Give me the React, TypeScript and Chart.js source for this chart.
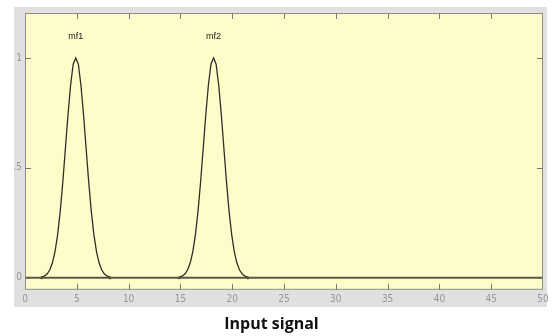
import { useEffect, useRef } from 'react';
import { Chart, registerables } from 'chart.js';

Chart.register(...registerables);

const MF_NAMES = ['mf1', 'mf2'];

const MF1_X = [1.6, 1.65, 1.9, 2.15, 2.4, 2.65, 2.9, 3.15, 3.4, 3.65, 3.9, 4.15, 4.4, 4.65, 4.9, 5.15, 5.4, 5.65, 5.9, 6.15, 6.4, 6.65, 6.9, 7.15, 7.4, 7.65, 7.9, 8.15, 8.2];
const MF1_Y = [0, 0.003, 0.008, 0.018, 0.036, 0.068, 0.119, 0.196, 0.302, 0.436, 0.588, 0.742, 0.876, 0.972, 1.0, 0.972, 0.876, 0.742, 0.588, 0.436, 0.302, 0.196, 0.119, 0.068, 0.036, 0.018, 0.008, 0.003, 0];

const MF2_X = [14.9, 14.95, 15.2, 15.45, 15.7, 15.95, 16.2, 16.45, 16.7, 16.95, 17.2, 17.45, 17.7, 17.95, 18.2, 18.45, 18.7, 18.95, 19.2, 19.45, 19.7, 19.95, 20.2, 20.45, 20.7, 20.95, 21.2, 21.45, 21.5];
const MF2_Y = [0, 0.003, 0.008, 0.018, 0.036, 0.068, 0.119, 0.196, 0.302, 0.436, 0.588, 0.742, 0.876, 0.972, 1.0, 0.972, 0.876, 0.742, 0.588, 0.436, 0.302, 0.196, 0.119, 0.068, 0.036, 0.018, 0.008, 0.003, 0];

const BASE_X = [0, 50];
const BASE_Y = [0, 0];

const X_TICKS = [0, 5, 10, 15, 20, 25, 30, 35, 40, 45, 50];
const Y_TICKS = [0, 0.5, 1];
const LABEL_LEVEL = 1.1;
const TITLE = 'Input signal';

const pts = (xs: number[], ys: number[]) => xs.map((x, i) => ({ x, y: ys[i] }));

const TICK_FONT = "'Liberation Sans Narrow', 'DejaVu Sans Condensed', 'Liberation Sans', sans-serif";

export default function App() {
  const ref = useRef<HTMLCanvasElement | null>(null);

  useEffect(() => {
    if (!ref.current) return;
    const series = [
      { name: MF_NAMES[0], xs: MF1_X, ys: MF1_Y },
      { name: MF_NAMES[1], xs: MF2_X, ys: MF2_Y },
    ];

    const frame = {
      id: 'frame',
      beforeDraw(chart: any) {
        const { ctx, chartArea: a } = chart;
        ctx.save();
        ctx.fillStyle = '#ffffff';
        ctx.fillRect(0, 0, chart.width, chart.height);
        ctx.fillStyle = '#e0e0e0';
        ctx.fillRect(14, 7, 533, 300);
        ctx.fillStyle = '#fefdca';
        ctx.fillRect(a.left, a.top, a.right - a.left, a.bottom - a.top);
        ctx.restore();
      },
      afterDatasetsDraw(chart: any) {
        const { ctx, chartArea: a, scales } = chart;
        const xs = scales.x;
        const ys = scales.y;
        ctx.save();
        ctx.fillStyle = '#1a1a1a';
        ctx.font = "9px 'Liberation Sans', Arial, sans-serif";
        ctx.textAlign = 'center';
        ctx.textBaseline = 'middle';
        series.forEach((s) => {
          let mi = 0;
          s.ys.forEach((v, i) => { if (v > s.ys[mi]) mi = i; });
          ctx.fillText(s.name, xs.getPixelForValue(s.xs[mi]), ys.getPixelForValue(LABEL_LEVEL));
        });
        ctx.strokeStyle = '#8e8e86';
        ctx.lineWidth = 1;
        ctx.strokeRect(a.left + 0.5, a.top + 0.5, a.right - a.left - 1, a.bottom - a.top - 1);
        ctx.strokeStyle = '#7a7a72';
        ctx.beginPath();
        X_TICKS.forEach((t) => {
          if (t === X_TICKS[0] || t === X_TICKS[X_TICKS.length - 1]) return;
          const px = Math.round(xs.getPixelForValue(t)) + 0.5;
          ctx.moveTo(px, a.bottom);
          ctx.lineTo(px, a.bottom - 6);
          ctx.moveTo(px, a.top);
          ctx.lineTo(px, a.top + 6);
        });
        Y_TICKS.forEach((t) => {
          const py = Math.round(ys.getPixelForValue(t)) + 0.5;
          ctx.moveTo(a.left, py);
          ctx.lineTo(a.left + 6, py);
          ctx.moveTo(a.right, py);
          ctx.lineTo(a.right - 6, py);
        });
        ctx.stroke();
        ctx.restore();
      },
      afterDraw(chart: any) {
        const { ctx } = chart;
        ctx.save();
        ctx.fillStyle = '#ffffff';
        ctx.fillRect(0, 0, 14, 310);
        ctx.restore();
      },
    };

    const chart = new Chart(ref.current, {
      type: 'scatter',
      data: {
        datasets: [
          {
            data: pts(BASE_X, BASE_Y),
            showLine: true,
            borderColor: '#5a5a44',
            borderWidth: 2,
            pointRadius: 0,
          },
          ...series.map((s) => ({
            data: pts(s.xs, s.ys),
            showLine: true,
            borderColor: '#2e2e28',
            borderWidth: 1.3,
            pointRadius: s.xs.map((_, i) => (i === 0 || i === s.xs.length - 1 ? 1.5 : 0)),
            pointBackgroundColor: '#2e2e28',
            pointBorderWidth: 0,
            tension: 0,
          })),
        ],
      },
      options: {
        animation: false,
        responsive: false,
        events: [],
        layout: { padding: { top: 13, right: 12, left: 0, bottom: 0 } },
        plugins: {
          legend: { display: false },
          tooltip: { enabled: false },
          title: {
            display: true,
            text: TITLE,
            position: 'bottom',
            color: '#111111',
            font: { family: "'Open Sans', Lato, sans-serif", size: 16, weight: 'bold' },
            padding: { top: 8, bottom: 2 },
          },
        },
        scales: {
          x: {
            type: 'linear',
            min: 0,
            max: 50,
            grid: { display: false, drawTicks: false },
            border: { display: false },
            afterBuildTicks: (s: any) => { s.ticks = X_TICKS.map((v) => ({ value: v })); },
            afterFit: (s: any) => { s.height = 17; },
            ticks: {
              padding: 4,
              color: '#969696',
              maxRotation: 0,
              font: { family: TICK_FONT, size: 10 },
              callback: (v: any) => String(v),
            },
          },
          y: {
            type: 'linear',
            min: -0.055,
            max: 1.205,
            grid: { display: false, drawTicks: false },
            border: { display: false },
            afterBuildTicks: (s: any) => { s.ticks = Y_TICKS.map((v) => ({ value: v })); },
            afterFit: (s: any) => { s.width = 25; },
            ticks: {
              padding: 3,
              color: '#969696',
              font: { family: TICK_FONT, size: 10 },
              callback: (v: any) => String(v),
            },
          },
        },
      },
      plugins: [frame],
    } as any);

    return () => chart.destroy();
  }, []);

  return (
    <div style={{ position: 'absolute', left: 0, top: 0, width: 555, height: 336, background: '#fff' }}>
      <canvas ref={ref} width={555} height={336} style={{ width: 555, height: 336, display: 'block' }} />
    </div>
  );
}
